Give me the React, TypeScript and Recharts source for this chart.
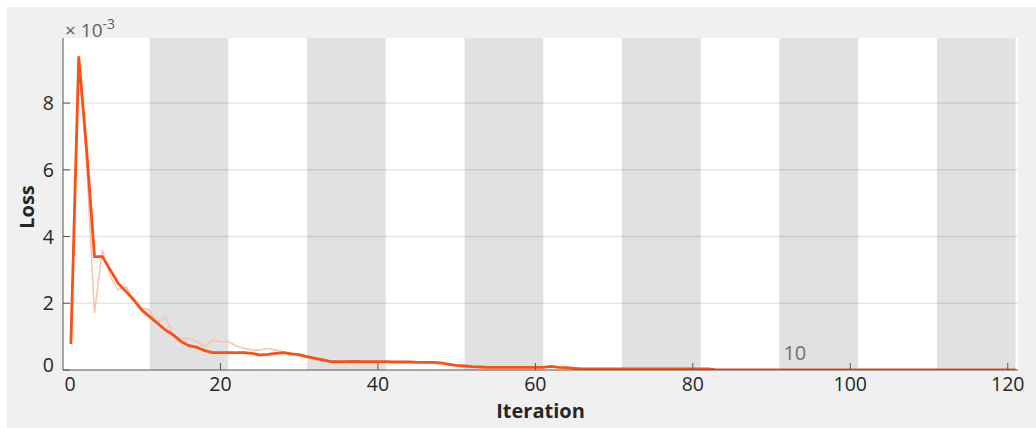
import React from "react";
import { LineChart, Line, XAxis, YAxis, ReferenceArea, ReferenceLine } from "recharts";

// loss values in units of 1e-3, one per iteration starting at 1
const smoothLoss = [
  0.78, 9.4, 6.6, 3.4, 3.4, 3.0, 2.6, 2.35, 2.1, 1.8,
  1.6, 1.4, 1.2, 1.05, 0.85, 0.73, 0.68, 0.58, 0.52, 0.52,
  0.52, 0.52, 0.52, 0.5, 0.45, 0.47, 0.5, 0.52, 0.48, 0.46,
  0.4, 0.35, 0.3, 0.25, 0.25, 0.25, 0.26, 0.25, 0.25, 0.25,
  0.25, 0.24, 0.24, 0.24, 0.23, 0.23, 0.23, 0.21, 0.17, 0.14,
  0.12, 0.1, 0.09, 0.08, 0.08, 0.08, 0.08, 0.08, 0.08, 0.08,
  0.08, 0.11, 0.08, 0.07, 0.05, 0.03, 0.03, 0.03, 0.03, 0.03,
  0.03, 0.03, 0.03, 0.03, 0.03, 0.03, 0.03, 0.03, 0.03, 0.03,
  0.03, 0.03, 0, 0, 0, 0, 0, 0, 0, 0,
  0, 0, 0, 0, 0, 0, 0, 0, 0, 0,
  0, 0, 0, 0, 0, 0, 0, 0, 0, 0,
  0, 0, 0, 0, 0, 0, 0, 0, 0, 0,
  0,
];

const rawLoss = [
  0.78, 9.3, 6.2, 1.7, 3.6, 2.8, 2.4, 2.5, 2.1, 1.85,
  1.8, 1.4, 1.6, 1.05, 0.95, 0.95, 0.85, 0.7, 0.9, 0.85,
  0.85, 0.72, 0.65, 0.6, 0.6, 0.65, 0.6, 0.55, 0.5, 0.42,
  0.38, 0.33, 0.28, 0.26, 0.25, 0.26, 0.27, 0.25, 0.25, 0.26,
  0.25, 0.24, 0.25, 0.24, 0.23, 0.23, 0.22, 0.2, 0.16, 0.13,
  0.11, 0.1, 0.09, 0.08, 0.08, 0.07, 0.08, 0.08, 0.08, 0.08,
  0.09, 0.12, 0.07, 0.06, 0.04, 0.03, 0.03, 0.03, 0.03, 0.03,
  0.03, 0.03, 0.03, 0.03, 0.03, 0.03, 0.03, 0.03, 0.03, 0.03,
  0.03, 0.03, 0, 0, 0, 0, 0, 0, 0, 0,
  0, 0, 0, 0, 0, 0, 0, 0, 0, 0,
  0, 0, 0, 0, 0, 0, 0, 0, 0, 0,
  0, 0, 0, 0, 0, 0, 0, 0, 0, 0,
  0,
];

const xTicks = [0, 20, 40, 60, 80, 100, 120];
const yTicks = [0, 2, 4, 6, 8];
const bandStarts = [11, 31, 51, 71, 91, 111];
const epochLabel = { at: 91, text: "10" };

const X_MAX = 121.3;
const Y_MAX = 9.95;
const FONT = "'Open Sans', 'Noto Sans', sans-serif";

const data = smoothLoss.map((v, i) => ({ iter: i + 1, smooth: v, raw: rawLoss[i] }));

const XTick = ({ x, y, payload }: any) => {
  const shift = payload.value === 0 ? 7 : 0;
  return (
    <g>
      {payload.value !== 0 && <line x1={x} x2={x} y1={y} y2={y - 7} stroke="#555" />}
      <text x={x + shift} y={y + 21} textAnchor="middle" fill="#262626" fontSize={19.5} fontFamily={FONT}>
        {payload.value}
      </text>
    </g>
  );
};

const YTick = ({ x, y, payload }: any) => {
  const shift = payload.value === 0 ? -5 : 0;
  return (
    <g>
      <line x1={x} x2={x + 7} y1={y} y2={y} stroke="#555" />
      <text x={x - 9} y={y + 7 + shift} textAnchor="end" fill="#262626" fontSize={19.5} fontFamily={FONT}>
        {payload.value}
      </text>
    </g>
  );
};

const YLabel = () => (
  <g>
    <text
      x={27}
      y={200}
      transform="rotate(-90 27 200)"
      textAnchor="middle"
      fill="#262626"
      fontSize={20}
      fontWeight="bold"
      fontFamily={FONT}
    >
      Loss
    </text>
    <text x={58} y={30} fill="#606060" fontSize={19} fontFamily={FONT}>
      × 10
      <tspan dy={-8} fontSize={14}>-3</tspan>
    </text>
  </g>
);

const EpochText = ({ viewBox }: any) => {
  if (!viewBox) return null;
  return (
    <text
      x={viewBox.x + 4}
      y={viewBox.y + viewBox.height - 10}
      fill="#707070"
      fontSize={20}
      fontFamily={FONT}
    >
      {epochLabel.text}
    </text>
  );
};

export default function App() {
  return (
    <div style={{ position: "fixed", left: 0, top: 0, width: 1036, height: 428, background: "#fff" }}>
      <div style={{ position: "absolute", left: 7, top: 7, width: 1029, height: 421, background: "#f0f0f0" }}>
        <LineChart
          width={1029}
          height={421}
          data={data}
          margin={{ top: 31, right: 18, left: 6, bottom: 0 }}
        >
          <XAxis
            dataKey="iter"
            type="number"
            domain={[0, X_MAX]}
            ticks={xTicks}
            allowDataOverflow
            height={58}
            tickSize={0}
            tickMargin={0}
            tick={<XTick />}
            axisLine={{ stroke: "#555" }}
            label={{
              value: "Iteration",
              position: "insideBottom",
              offset: 10,
              fill: "#262626",
              fontSize: 20,
              fontWeight: "bold",
              fontFamily: FONT,
            }}
          />
          <YAxis
            type="number"
            domain={[0, Y_MAX]}
            ticks={yTicks}
            allowDataOverflow
            width={50}
            tickSize={0}
            tickMargin={0}
            tick={<YTick />}
            axisLine={{ stroke: "#555" }}
            label={{ content: () => <YLabel /> }}
          />
          <ReferenceArea x1={0} x2={X_MAX} y1={0} y2={Y_MAX} fill="#ffffff" fillOpacity={1} stroke="none" />
          {bandStarts.map((s) => (
            <ReferenceArea
              key={s}
              x1={s}
              x2={Math.min(s + 10, X_MAX)}
              y1={0}
              y2={Y_MAX}
              fill="#e1e1e1"
              fillOpacity={1}
              stroke="none"
              label={s === epochLabel.at ? <EpochText /> : undefined}
            />
          ))}
          {yTicks.slice(1).map((t) => (
            <ReferenceLine key={t} y={t} stroke="#000" strokeOpacity={0.1} strokeWidth={1.5} />
          ))}
          <Line
            type="linear"
            dataKey="raw"
            stroke="#f9c2ab"
            strokeWidth={1.5}
            dot={false}
            isAnimationActive={false}
          />
          <Line
            type="linear"
            dataKey="smooth"
            stroke="#fa4f15"
            strokeWidth={2.8}
            dot={false}
            isAnimationActive={false}
          />
        </LineChart>
      </div>
    </div>
  );
}
